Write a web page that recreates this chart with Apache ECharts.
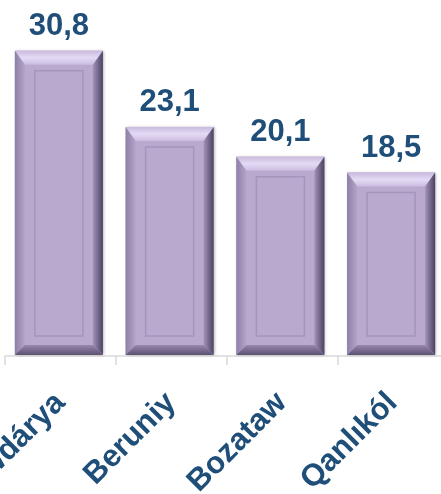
<!DOCTYPE html>
<html>
<head>
<meta charset="utf-8">
<script src="https://cdn.jsdelivr.net/npm/echarts@6/dist/echarts.min.js"></script>
<style>
html,body{margin:0;padding:0;background:#fff;}
#chart{width:441px;height:494px;}
</style>
</head>
<body>
<div id="chart"></div>
<script>
var categories = ['Ámiwdárya', 'Beruniy', 'Bozataw', 'Qanlıkól'];
var values = [30.8, 23.1, 20.1, 18.5];

var LABEL_COLOR = '#1F4E79';

function lg(x, y, x2, y2, stops) {
  return new echarts.graphic.LinearGradient(x, y, x2, y2, stops.map(function (c, i) {
    return { offset: i / (stops.length - 1), color: c };
  }));
}

function renderBar(params, api) {
  var idx = api.value(0);
  var val = api.value(1);
  var top = api.coord([idx, val]);
  var base = api.coord([idx, 0]);
  var band = api.size([1, 0])[0];
  var w = band * 0.795;
  var cx = top[0] - 1.5;
  var x0 = cx - w / 2, x1 = cx + w / 2;
  var y0 = top[1], y1 = base[1] - 1;
  var b = 10, bt = 14, ins = 20;
  var children = [
    { type: 'rect', shape: { x: x0, y: y0, width: w, height: y1 - y0 },
      style: { fill: '#B9A9CF', shadowColor: 'rgba(0,0,0,0.35)', shadowBlur: 3, shadowOffsetX: 1, shadowOffsetY: 0 } },
    { type: 'polygon', shape: { points: [[x0, y0], [x1, y0], [x1 - b, y0 + bt], [x0 + b, y0 + bt]] },
      style: { fill: lg(0, 0, 0, 1, ['#C9BADD', '#E5DAF5', '#CBBCE0']) } },
    { type: 'polygon', shape: { points: [[x0, y0], [x0 + b, y0 + bt], [x0 + b, y1 - b], [x0, y1]] },
      style: { fill: lg(0, 0, 1, 0, ['#8E7FA6', '#B3A4CA']) } },
    { type: 'polygon', shape: { points: [[x1, y0], [x1, y1], [x1 - b, y1 - b], [x1 - b, y0 + bt]] },
      style: { fill: lg(0, 0, 1, 0, ['#A293BA', '#4C4260']) } },
    { type: 'polygon', shape: { points: [[x0, y1], [x0 + b, y1 - b], [x1 - b, y1 - b], [x1, y1]] },
      style: { fill: lg(0, 0, 0, 1, ['#9788AF', '#5D5171']) } },
    { type: 'rect', shape: { x: x0 + ins, y: y0 + ins, width: w - 2 * ins, height: (y1 - 19) - (y0 + ins) },
      style: { fill: 'none', stroke: '#A595BD', lineWidth: 1.5 } },
    { type: 'text', style: {
        text: String(val.toFixed(1)).replace('.', ','),
        x: cx, y: y0 - 9, align: 'center', verticalAlign: 'bottom',
        fill: LABEL_COLOR, font: 'bold 31px "Liberation Sans", Arial, sans-serif'
      } }
  ];
  return { type: 'group', children: children };
}

var chart = echarts.init(document.getElementById('chart'), null, { renderer: 'canvas' });
chart.setOption({
  animation: false,
  grid: { left: 5, right: -7, top: 9, bottom: 138, containLabel: false, outerBoundsMode: 'none' },
  xAxis: {
    type: 'category',
    data: categories,
    axisLine: { show: true, lineStyle: { color: '#D9D9D9', width: 1.5 } },
    axisTick: { show: true, alignWithLabel: false, length: 9, lineStyle: { color: '#D9D9D9', width: 1.5 } },
    axisLabel: {
      rotate: 45, interval: 0, margin: 42, hideOverlap: false,
      color: LABEL_COLOR, fontWeight: 'bold', fontSize: 31,
      fontFamily: '"Liberation Sans", Arial, sans-serif'
    }
  },
  yAxis: { type: 'value', min: 0, max: 35, show: false, splitLine: { show: false } },
  series: [{
    type: 'custom',
    renderItem: renderBar,
    data: values.map(function (v, i) { return [i, v]; }),
    encode: { x: 0, y: 1 }
  }]
});
</script>
</body>
</html>
